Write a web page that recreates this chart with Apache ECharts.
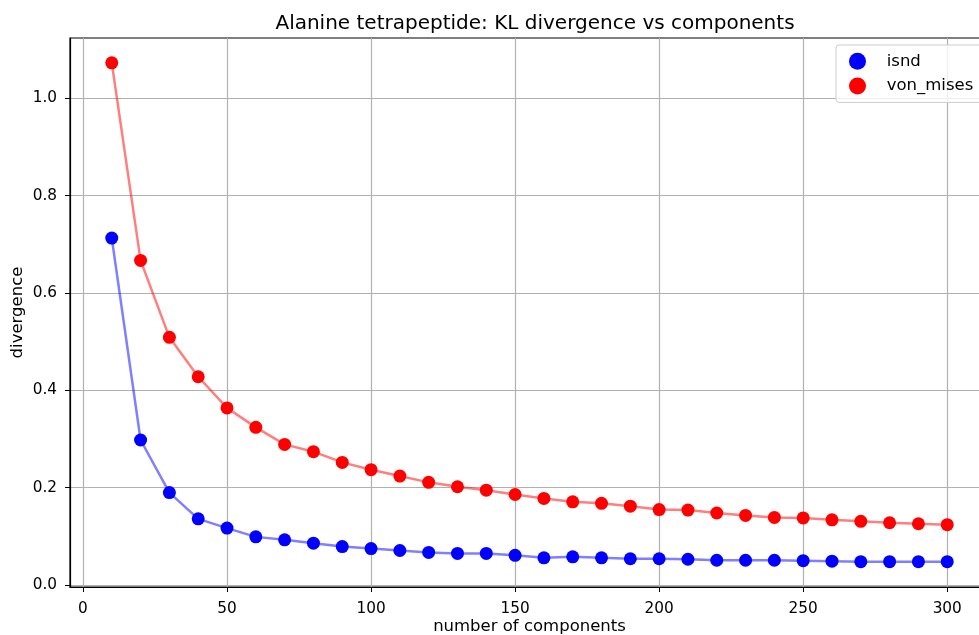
<html>
<head>
    <title>KL divergence vs components</title>
    <style>
        * { margin: 0; padding: 0; }
        #chart-container { width: 979px; height: 635px; }
    </style>
</head>
<body>
<div id="chart-container"></div>
<script src="https://cdn.jsdelivr.net/npm/echarts@6.0.0/dist/echarts.min.js"></script>
<script>
    // number of components
    const components = [10, 20, 30, 40, 50, 60, 70, 80, 90, 100,
        110, 120, 130, 140, 150, 160, 170, 180, 190, 200,
        210, 220, 230, 240, 250, 260, 270, 280, 290, 300];

    const isnd = [0.713, 0.298, 0.190, 0.136, 0.117, 0.099, 0.093, 0.086, 0.079, 0.075,
        0.071, 0.067, 0.065, 0.065, 0.061, 0.056, 0.058, 0.056, 0.054, 0.054,
        0.053, 0.051, 0.051, 0.051, 0.050, 0.049, 0.048, 0.048, 0.048, 0.048];

    const vonMises = [1.073, 0.667, 0.509, 0.428, 0.364, 0.324, 0.289, 0.274, 0.252, 0.237,
        0.224, 0.211, 0.202, 0.195, 0.186, 0.178, 0.171, 0.168, 0.162, 0.155,
        0.154, 0.148, 0.143, 0.139, 0.138, 0.134, 0.131, 0.128, 0.126, 0.124];

    const xTicks = [0, 50, 100, 150, 200, 250, 300];
    const yTicks = [0, 0.2, 0.4, 0.6, 0.8, 1.0];

    const font = 'DejaVu Sans';
    var dom = document.getElementById('chart-container');
    var myChart = echarts.init(dom, null, { renderer: 'canvas' });

    function makeSeries(name, values, color) {
        return {
            name: name,
            type: 'line',
            data: components.map((c, i) => [c, values[i]]),
            symbol: 'circle',
            symbolSize: 13,
            showAllSymbol: true,
            animation: false,
            lineStyle: { color: color, width: 2.5, opacity: 0.5 },
            itemStyle: { color: color, opacity: 1 },
            emphasis: { disabled: true }
        };
    }

    var option = {
        animation: false,
        title: {
            text: 'Alanine tetrapeptide: KL divergence vs components',
            left: 530,
            textAlign: 'center',
            top: -1,
            textStyle: { fontFamily: font, fontSize: 20, fontWeight: 'normal', color: '#000' }
        },
        legend: {
            orient: 'vertical',
            left: 836,
            top: 45,
            padding: [0, 20, 0, 13],
            itemGap: -8,
            itemWidth: 17,
            itemHeight: 17,
            icon: 'circle',
            backgroundColor: 'rgba(255,255,255,0.8)',
            borderColor: '#cccccc',
            borderWidth: 1,
            borderRadius: 3,
            formatter: name => '   ' + name,
            textStyle: { fontFamily: font, fontSize: 16.5, color: '#000' },
            data: ['isnd', 'von_mises']
        },
        grid: {
            left: 70,
            top: 38,
            right: -10,
            bottom: 48,
            outerBoundsMode: 'none',
            show: true,
            borderColor: '#000',
            borderWidth: 1.2,
            containLabel: false
        },
        xAxis: {
            type: 'value',
            min: -4.5,
            max: 314.5,
            name: 'number of components',
            nameLocation: 'middle',
            nameGap: 23,
            nameMoveOverlap: false,
            nameTextStyle: { fontFamily: font, fontSize: 16.5, color: '#000' },
            axisLine: { onZero: false, lineStyle: { color: '#000', width: 1.2 } },
            axisTick: { customValues: xTicks, length: 5, lineStyle: { color: '#000' } },
            axisLabel: { customValues: xTicks, margin: 7, fontFamily: font, fontSize: 15.3, color: '#000' },
            splitLine: { show: true, lineStyle: { color: '#b0b0b0', width: 1.2 } }
        },
        yAxis: {
            type: 'value',
            min: -0.004,
            max: 1.124,
            name: 'divergence',
            nameLocation: 'middle',
            nameGap: 36,
            nameMoveOverlap: false,
            nameTextStyle: { fontFamily: font, fontSize: 16.5, color: '#000' },
            axisLine: { show: true, onZero: false, lineStyle: { color: '#000', width: 1.2 } },
            axisTick: { show: true, customValues: yTicks, length: 5, lineStyle: { color: '#000' } },
            axisLabel: {
                customValues: yTicks, margin: 13, fontFamily: font, fontSize: 15.3, color: '#000',
                formatter: v => v.toFixed(1)
            },
            splitLine: { show: true, lineStyle: { color: '#b0b0b0', width: 1.2 } }
        },
        series: [
            makeSeries('isnd', isnd, '#0000ff'),
            makeSeries('von_mises', vonMises, '#ff0000')
        ]
    };

    myChart.setOption(option);
    window.addEventListener('resize', myChart.resize);
</script>
</body>
</html>
